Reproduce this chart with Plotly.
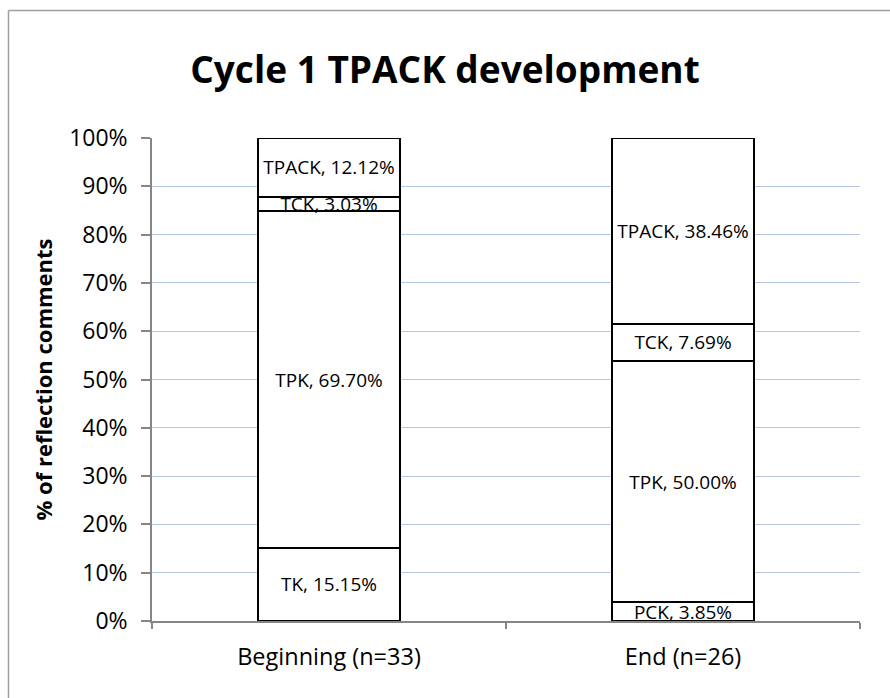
import plotly.graph_objects as go

categories = ["Beginning (n=33)", "End (n=26)"]
segment_names = ["TK", "PCK", "TPK", "TCK", "TPACK"]
values = {
    "TK": [15.15, None],
    "PCK": [None, 3.85],
    "TPK": [69.70, 50.00],
    "TCK": [3.03, 7.69],
    "TPACK": [12.12, 38.46],
}
y_ticks = [0, 10, 20, 30, 40, 50, 60, 70, 80, 90, 100]
y_tick_labels = [f"{t}%" for t in y_ticks]

FONT = "Open Sans"

fig = go.Figure()
for name in segment_names:
    vals = values[name]
    texts = [f"{name}, {v:.2f}%" if v is not None else "" for v in vals]
    fig.add_trace(go.Bar(
        x=categories, y=vals, name=name,
        text=texts, textposition="inside", insidetextanchor="middle",
        textangle=0,
        textfont=dict(family=FONT, size=19, color="black"),
        marker=dict(color="white", line=dict(color="black", width=2)),
        hoverinfo="skip",
    ))

fig.update_layout(
    barmode="stack",
    bargap=0.6,
    width=890, height=698,
    margin=dict(l=152, r=30, t=138, b=77),
    paper_bgcolor="white", plot_bgcolor="white",
    showlegend=False,
    uniformtext=dict(minsize=19, mode="show"),
    title=dict(text="<b>Cycle 1 TPACK development</b>",
               font=dict(family=FONT, size=37, color="black"),
               x=0.5, xanchor="center", xref="container",
               y=1 - 70 / 698, yanchor="middle", yref="container"),
    font=dict(family=FONT, color="black"),
)

fig.update_xaxes(
    type="category", range=[-0.5, 1.5],
    showline=True, linecolor="#868686", linewidth=1.5,
    ticks="outside", tickson="boundaries", ticklen=6, tickcolor="#868686", tickwidth=1.5,
    showgrid=False, zeroline=False,
    tickfont=dict(family=FONT, size=23.5, color="black"),
    ticklabelstandoff=14,
)
fig.update_yaxes(
    range=[0, 100], tickvals=y_ticks, ticktext=y_tick_labels,
    showline=True, linecolor="#868686", linewidth=1.5,
    ticks="outside", ticklen=9, tickcolor="#868686", tickwidth=1.5,
    showgrid=True, gridcolor="#b3c9e6", gridwidth=1.3,
    zeroline=False,
    tickfont=dict(family=FONT, size=23, color="black"),
    ticklabelstandoff=9,
)

fig.add_annotation(
    text="<b>% of reflection comments</b>", textangle=-90,
    xref="paper", yref="paper", x=0, y=0.5,
    xshift=-110, showarrow=False, xanchor="center", yanchor="middle",
    font=dict(family=FONT, size=22, color="black"),
)

# outer chart border: only the left and top edges fall inside the picture
bx0 = (8.5 - 152) / 708
bx1 = (1100 - 152) / 708
by0 = (621 - 900) / 483
by1 = (621 - 10.5) / 483
fig.add_shape(type="line", xref="paper", yref="paper",
              x0=bx0, x1=bx0, y0=by0, y1=by1,
              line=dict(color="#a0a0a0", width=1.5), layer="below")
fig.add_shape(type="line", xref="paper", yref="paper",
              x0=bx0, x1=bx1, y0=by1, y1=by1,
              line=dict(color="#a0a0a0", width=1.5), layer="below")

fig.write_html(
    "out.html",
    config={"displayModeBar": False},
    post_script="document.body.style.margin='0';document.body.style.overflow='hidden';",
)
